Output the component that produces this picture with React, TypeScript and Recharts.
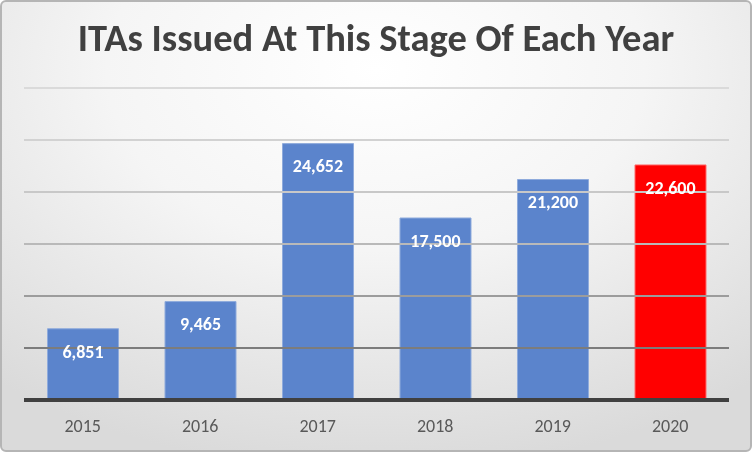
import React from 'react';
import { BarChart, Bar, XAxis, YAxis, LabelList, Cell, ReferenceLine } from 'recharts';

const years = ['2015', '2016', '2017', '2018', '2019', '2020'];
const itasIssued = [6851, 9465, 24652, 17500, 21200, 22600];
const yTicks = [0, 5000, 10000, 15000, 20000, 25000, 30000];

const data = years.map((year, i) => ({ year, value: itasIssued[i] }));

const FONT = "Carlito, 'Liberation Sans Narrow', Lato, 'Open Sans', sans-serif";

// gridlines get darker towards the bottom of the plot
const gridShades = ['#7c7c7c', '#9c9c9c', '#b9b9b9', '#c8c8c8', '#d2d2d2', '#dadada'];

const formatValue = (v: number) => v.toLocaleString('en-US');

export default function App() {
  return (
    <div
      style={{
        position: 'fixed',
        left: 0,
        top: 0,
        width: 752,
        height: 452,
        boxSizing: 'border-box',
        border: '2px solid #b5b5b5',
        borderRadius: 6,
        background: 'radial-gradient(ellipse 80% 90% at 50% 15%, #ffffff 0%, #f5f5f5 45%, #dadada 100%)',
        overflow: 'hidden',
        fontFamily: FONT,
      }}
    >
      <div
        style={{
          position: 'absolute',
          top: 12,
          left: 0,
          width: '100%',
          textAlign: 'center',
          fontSize: 38.5,
          fontWeight: 700,
          color: '#404040',
          lineHeight: '48px',
        }}
      >
        ITAs Issued At This Stage Of Each Year
      </div>
      <div style={{ position: 'absolute', left: -2, top: -2 }}>
        <BarChart
          width={752}
          height={452}
          data={data}
          margin={{ top: 88, right: 23, bottom: 22, left: 24 }}
          barCategoryGap="20%"
        >
          <YAxis hide domain={[0, 30000]} ticks={yTicks} />
          <XAxis
            dataKey="year"
            height={30}
            axisLine={false}
            tickLine={false}
            tick={{ fill: '#595959', fontSize: 18, fontFamily: FONT }}
            tickMargin={13}
          />
          {yTicks.slice(1).map((t, i) => (
            <ReferenceLine key={t} y={t} stroke={gridShades[i]} strokeWidth={2} />
          ))}
          <Bar dataKey="value" isAnimationActive={false} strokeWidth={1}>
            {data.map((d, i) => (
              <Cell
                key={d.year}
                fill={i === data.length - 1 ? '#ff0000' : '#5b84cc'}
                stroke={i === data.length - 1 ? '#ff6b6b' : '#8fabdc'}
              />
            ))}
            <LabelList
              dataKey="value"
              position="insideTop"
              offset={16}
              fill="#ffffff"
              fontSize={18}
              fontWeight={700}
              fontFamily={FONT}
              formatter={(v: any) => formatValue(Number(v))}
            />
          </Bar>
          <ReferenceLine y={0} stroke="#404040" strokeWidth={4} />
        </BarChart>
      </div>
    </div>
  );
}
